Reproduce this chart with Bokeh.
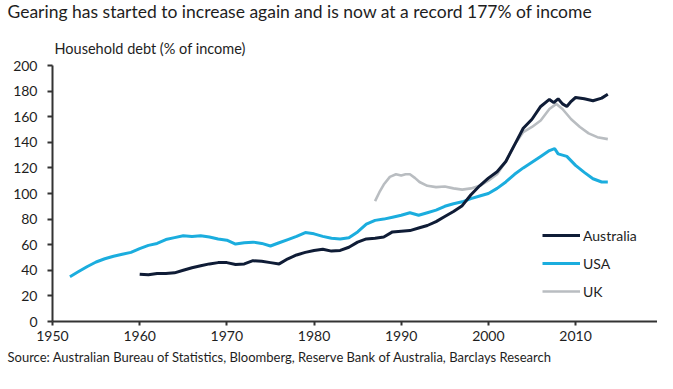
from bokeh.plotting import figure
from bokeh.models import Legend, LegendItem, FixedTicker, Range1d
from bokeh.layouts import column
from bokeh.core.properties import value
from bokeh.embed import file_html
from bokeh.resources import INLINE

# ---- data ----
usa_years = [1952.0, 1953.0, 1954.0, 1955.0, 1956.0, 1957.0, 1958.0, 1959.0, 1960.0, 1961.0,
             1962.0, 1963.0, 1964.0, 1965.0, 1966.0, 1967.0, 1968.0, 1969.0, 1970.0, 1971.0,
             1972.0, 1973.0, 1974.0, 1975.0, 1976.0, 1977.0, 1978.0, 1979.0, 1980.0, 1981.0,
             1982.0, 1983.0, 1984.0, 1985.0, 1986.0, 1987.0, 1988.0, 1989.0, 1990.0, 1991.0,
             1992.0, 1993.0, 1994.0, 1995.0, 1996.0, 1997.0, 1998.0, 1999.0, 2000.0, 2001.0,
             2002.0, 2003.0, 2004.0, 2005.0, 2006.0, 2007.0, 2007.6, 2008.0, 2009.0, 2010.0,
             2011.0, 2012.0, 2013.0, 2013.7]
usa_values = [35, 39, 43, 46.5, 49, 51, 52.5, 54, 57, 59.5,
              61, 64, 65.5, 67, 66.5, 67, 66, 64.5, 63.5, 60.5,
              61.5, 62, 61, 59, 61.5, 64, 66.5, 69.5, 68.5, 66.5,
              65, 64.5, 65.5, 70, 76, 79, 80, 81.5, 83, 85,
              83, 85, 87, 90, 92, 93.5, 96, 98, 100, 104,
              109, 115, 120, 124.5, 129, 133.5, 135, 131, 129, 122,
              116.5, 111.5, 109, 109]

aus_years = [1960.0, 1961.0, 1962.0, 1963.0, 1964.0, 1965.0, 1966.0, 1967.0, 1968.0, 1969.0,
             1970.0, 1971.0, 1972.0, 1973.0, 1974.0, 1975.0, 1976.0, 1977.0, 1978.0, 1979.0,
             1980.0, 1981.0, 1982.0, 1983.0, 1984.0, 1985.0, 1986.0, 1987.0, 1988.0, 1989.0,
             1990.0, 1991.0, 1992.0, 1993.0, 1994.0, 1995.0, 1996.0, 1997.0, 1998.0, 1999.0,
             2000.0, 2001.0, 2002.0, 2003.0, 2004.0, 2005.0, 2006.0, 2007.0, 2007.5, 2008.0,
             2008.5, 2009.0, 2009.5, 2010.0, 2011.0, 2012.0, 2013.0, 2013.7]
aus_values = [37, 36.5, 37.5, 37.5, 38, 40, 42, 43.5, 45, 46,
              46, 44.5, 45, 47.5, 47, 46, 45, 49, 52, 54,
              55.5, 56.5, 55, 55.5, 58, 62, 64.5, 65, 66, 70,
              70.5, 71, 73, 75, 78, 82, 86, 90.5, 99, 106,
              112, 117, 125, 138, 151, 158, 168, 173.5, 171, 174,
              170, 168, 172, 175, 174, 172.5, 174.5, 177.5]

uk_years = [1987.0, 1987.5, 1988.0, 1988.7, 1989.4, 1990.0, 1990.5, 1991.0, 1991.6, 1992.1,
            1993.0, 1994.0, 1995.0, 1996.0, 1997.0, 1998.0, 1999.0, 2000.0, 2001.0, 2002.0,
            2003.0, 2004.0, 2005.0, 2006.0, 2007.0, 2007.8, 2008.5, 2009.5, 2010.5, 2011.5,
            2012.5, 2013.7]
uk_values = [94, 101, 107, 113, 115, 114, 115, 115, 112, 109,
             106, 105, 105.5, 104, 103, 104, 106, 110, 115, 125,
             138, 148, 152, 157, 166, 170, 166, 158, 152, 147,
             144, 142.5]

series_names = ["Australia", "USA", "UK"]
x_ticks = [1950, 1960, 1970, 1980, 1990, 2000, 2010]
y_ticks = [0, 20, 40, 60, 80, 100, 120, 140, 160, 180, 200]

title_text = "Gearing has started to increase again and is now at a record 177% of income"
ylabel_text = "Household debt (% of income)"
source_text = "Source: Australian Bureau of Statistics, Bloomberg, Reserve Bank of Australia, Barclays Research"

FONT = "Lato"
AUS_C = "#0f1c36"
USA_C = "#1badde"
UK_C = "#b9bdc1"
AX_C = "#333333"
TXT_C = "#1e1e1e"

W = 657
HEADER_H = 57
MAIN_H = 291
FOOTER_H = 24


def no_align(f):
    try:
        f.frame_align = False
    except Exception:
        pass


def text_panel(height):
    f = figure(width=W, height=height, output_backend="svg", toolbar_location=None,
               x_range=Range1d(0, W), y_range=Range1d(height, 0),
               x_axis_type=None, y_axis_type=None,
               min_border_left=0, min_border_right=0, min_border_top=0, min_border_bottom=0)
    f.outline_line_color = None
    f.xgrid.visible = False
    f.ygrid.visible = False
    no_align(f)
    return f


# ---- header: title and axis caption ----
header = text_panel(HEADER_H)
header.text(x=[7], y=[11], text=[title_text], text_font=value(FONT), text_font_size="17.5px",
            text_color=TXT_C, text_baseline="middle", text_align="left")
header.text(x=[54], y=[47.5], text=[ylabel_text], text_font=value(FONT), text_font_size="14.5px",
            text_color=TXT_C, text_baseline="middle", text_align="left")

# ---- main chart ----
X0, X1 = 1950, 2019.4
p = figure(width=W, height=MAIN_H, output_backend="svg", toolbar_location=None,
           x_range=Range1d(X0, X1), y_range=Range1d(0, 200),
           min_border_left=52, min_border_right=0, min_border_top=8, min_border_bottom=27)
p.outline_line_color = None
p.xgrid.visible = False
p.ygrid.visible = False
no_align(p)

for ax in (p.xaxis[0], p.yaxis[0]):
    ax.axis_line_color = AX_C
    ax.axis_line_width = 2
    ax.major_tick_line_color = AX_C
    ax.major_tick_line_width = 2
    ax.major_tick_in = 0
    ax.minor_tick_line_color = None
    ax.major_label_text_font = FONT
    ax.major_label_text_font_size = "14px"
    ax.major_label_text_color = TXT_C

p.xaxis.ticker = FixedTicker(ticks=x_ticks)
p.xaxis.major_tick_out = 4
p.xaxis.major_label_standoff = 5
p.yaxis.ticker = FixedTicker(ticks=y_ticks)
p.yaxis.major_tick_out = 5
p.yaxis.major_label_standoff = 10

r_usa = p.line(usa_years, usa_values, line_color=USA_C, line_width=3)
r_uk = p.line(uk_years, uk_values, line_color=UK_C, line_width=2.6)
r_aus = p.line(aus_years, aus_values, line_color=AUS_C, line_width=3)

legend = Legend(items=[LegendItem(label=series_names[0], renderers=[r_aus]),
                       LegendItem(label=series_names[1], renderers=[r_usa]),
                       LegendItem(label=series_names[2], renderers=[r_uk])],
                location=(490, 20), orientation="vertical",
                glyph_width=38, glyph_height=20, spacing=8, padding=0, margin=0,
                label_standoff=3, label_text_font=FONT, label_text_font_size="14px",
                label_text_color=TXT_C, border_line_color=None,
                background_fill_alpha=0)
p.add_layout(legend, "center")

# ---- footer: source ----
footer = text_panel(FOOTER_H)
footer.text(x=[7], y=[8.5], text=[source_text], text_font=value(FONT), text_font_size="13px",
            text_color=TXT_C, text_baseline="middle", text_align="left")

layout = column(header, p, footer, spacing=0)
open("out.html", "w").write(file_html(layout, INLINE))
